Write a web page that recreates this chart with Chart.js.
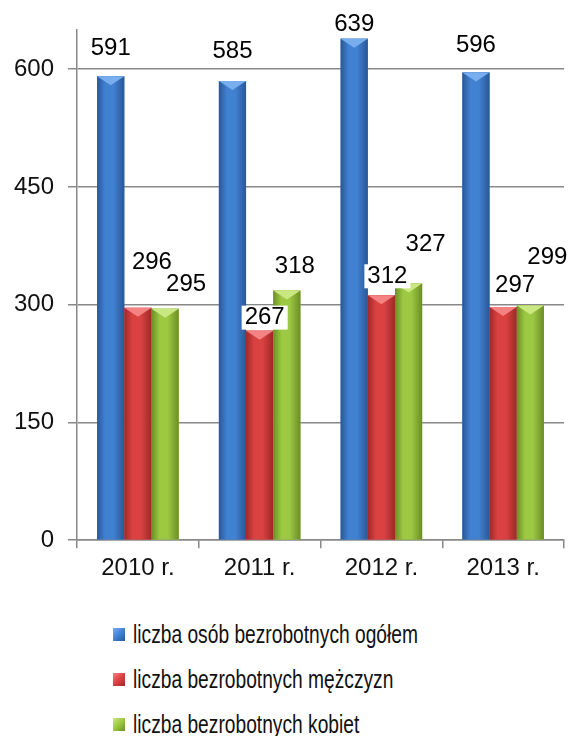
<!DOCTYPE html>
<html lang="pl">
<head>
    <meta charset="UTF-8">
    <title>Bezrobotni 2010-2013</title>
    <script src="https://cdn.jsdelivr.net/npm/chart.js"></script>
    <style>
        body { margin: 0; background: #fff; font-family: "Liberation Sans", Arial, sans-serif; }
        #wrap { position: relative; width: 569px; height: 600px; }
        #legend { margin: 12px 0 0 113px; }
        .item { display: flex; align-items: center; height: 45px; color: #111; }
        .box { width: 12px; height: 13px; margin-right: 8px; flex: none; }
        .txt { font-size: 24px; transform: scale(0.8, 1.05); transform-origin: left center; white-space: nowrap; }
    </style>
</head>
<body>
    <div id="wrap"><canvas id="myChart"></canvas></div>
    <div id="legend"></div>

    <script>
        const years = ['2010 r.', '2011 r.', '2012 r.', '2013 r.'];
        const seriesNames = ['liczba osób bezrobotnych ogółem', 'liczba bezrobotnych mężczyzn', 'liczba bezrobotnych kobiet'];
        const ogolem = [591, 585, 639, 596];
        const mezczyzni = [296, 267, 312, 297];
        const kobiety = [295, 318, 327, 299];
        const yTicks = [0, 150, 300, 450, 600];

        const FONT = '"Liberation Sans", Arial, sans-serif';

        // colours: [main, dark edge, light]
        const colors = [
            ['#4181d2', '#2a5796', '#79aeee'],
            ['#da4242', '#a02828', '#f48282'],
            ['#9cc842', '#6c8d27', '#cae882']
        ];
        // manual nudges for value labels (like the hand-moved labels in the original)
        const labelShift = [
            [[0, -28], [0, -30], [0, -14], [0, -27]],
            [[14, -45], [5, -13], [6, -19], [12, -22]],
            [[21, -24], [8, -24], [17, -39], [17, -48]]
        ];

        const barStyle = {
            id: 'barStyle',
            afterDatasetsDraw(chart) {
                const ctx = chart.ctx;
                ctx.save();
                chart.data.datasets.forEach((ds, di) => {
                    const c = colors[di];
                    chart.getDatasetMeta(di).data.forEach(bar => {
                        const l = bar.x - bar.width / 2, r = bar.x + bar.width / 2;
                        const g = ctx.createLinearGradient(l, 0, r, 0);
                        g.addColorStop(0, c[1]);
                        g.addColorStop(0.3, c[0]);
                        g.addColorStop(0.6, c[0]);
                        g.addColorStop(1, c[1]);
                        ctx.fillStyle = g;
                        ctx.fillRect(l, bar.y, bar.width, bar.base - bar.y);
                        // top bevel
                        ctx.fillStyle = c[2];
                        ctx.beginPath();
                        ctx.moveTo(l, bar.y);
                        ctx.lineTo(r, bar.y);
                        ctx.lineTo(bar.x, bar.y + 9);
                        ctx.closePath();
                        ctx.fill();
                    });
                });
                // value labels with white background
                ctx.font = '24px ' + FONT;
                ctx.textAlign = 'center';
                ctx.textBaseline = 'middle';
                chart.data.datasets.forEach((ds, di) => {
                    chart.getDatasetMeta(di).data.forEach((bar, i) => {
                        const txt = String(ds.data[i]);
                        const x = bar.x + labelShift[di][i][0];
                        const y = bar.y + labelShift[di][i][1];
                        const w = ctx.measureText(txt).width + 6;
                        ctx.fillStyle = '#fff';
                        ctx.fillRect(x - w / 2, y - 12, w, 24);
                        ctx.fillStyle = '#000';
                        ctx.fillText(txt, x, y);
                    });
                });
                ctx.restore();
            }
        };

        const data = {
            labels: years,
            datasets: [
                { label: seriesNames[0], data: ogolem, backgroundColor: colors[0][0] },
                { label: seriesNames[1], data: mezczyzni, backgroundColor: colors[1][0] },
                { label: seriesNames[2], data: kobiety, backgroundColor: colors[2][0] }
            ]
        };

        const config = {
            type: 'bar',
            data: data,
            options: {
                responsive: true,
                maintainAspectRatio: false,
                animation: false,
                layout: { padding: { left: 0, right: 5, top: 30, bottom: 11 } },
                datasets: { bar: { categoryPercentage: 0.67, barPercentage: 1 } },
                plugins: { legend: { display: false }, tooltip: { enabled: false } },
                scales: {
                    x: {
                        grid: { display: true, drawOnChartArea: false, offset: true, tickLength: 8, color: '#888', lineWidth: 1.5 },
                        border: { color: '#888', width: 1.5 },
                        ticks: { color: '#111', font: { size: 24, family: FONT }, padding: 6 }
                    },
                    y: {
                        min: 0,
                        max: 650,
                        afterBuildTicks(axis) {
                            axis.ticks = yTicks.map(v => ({ value: v }));
                        },
                        grid: { color: '#888', lineWidth: 1.5, tickLength: 9 },
                        border: { color: '#888', width: 1.5 },
                        ticks: { color: '#111', font: { size: 24, family: FONT }, padding: 14 }
                    }
                }
            },
            plugins: [barStyle]
        };

        new Chart(document.getElementById('myChart').getContext('2d'), config);

        const legend = document.getElementById('legend');
        seriesNames.forEach((name, i) => {
            const row = document.createElement('div');
            row.className = 'item';
            row.innerHTML = '<span class="box" style="background: linear-gradient(135deg,' + colors[i][2] + ',' + colors[i][0] + ' 50%,' + colors[i][1] + ')"></span><span class="txt">' + name + '</span>';
            legend.appendChild(row);
        });
    </script>
</body>
</html>
